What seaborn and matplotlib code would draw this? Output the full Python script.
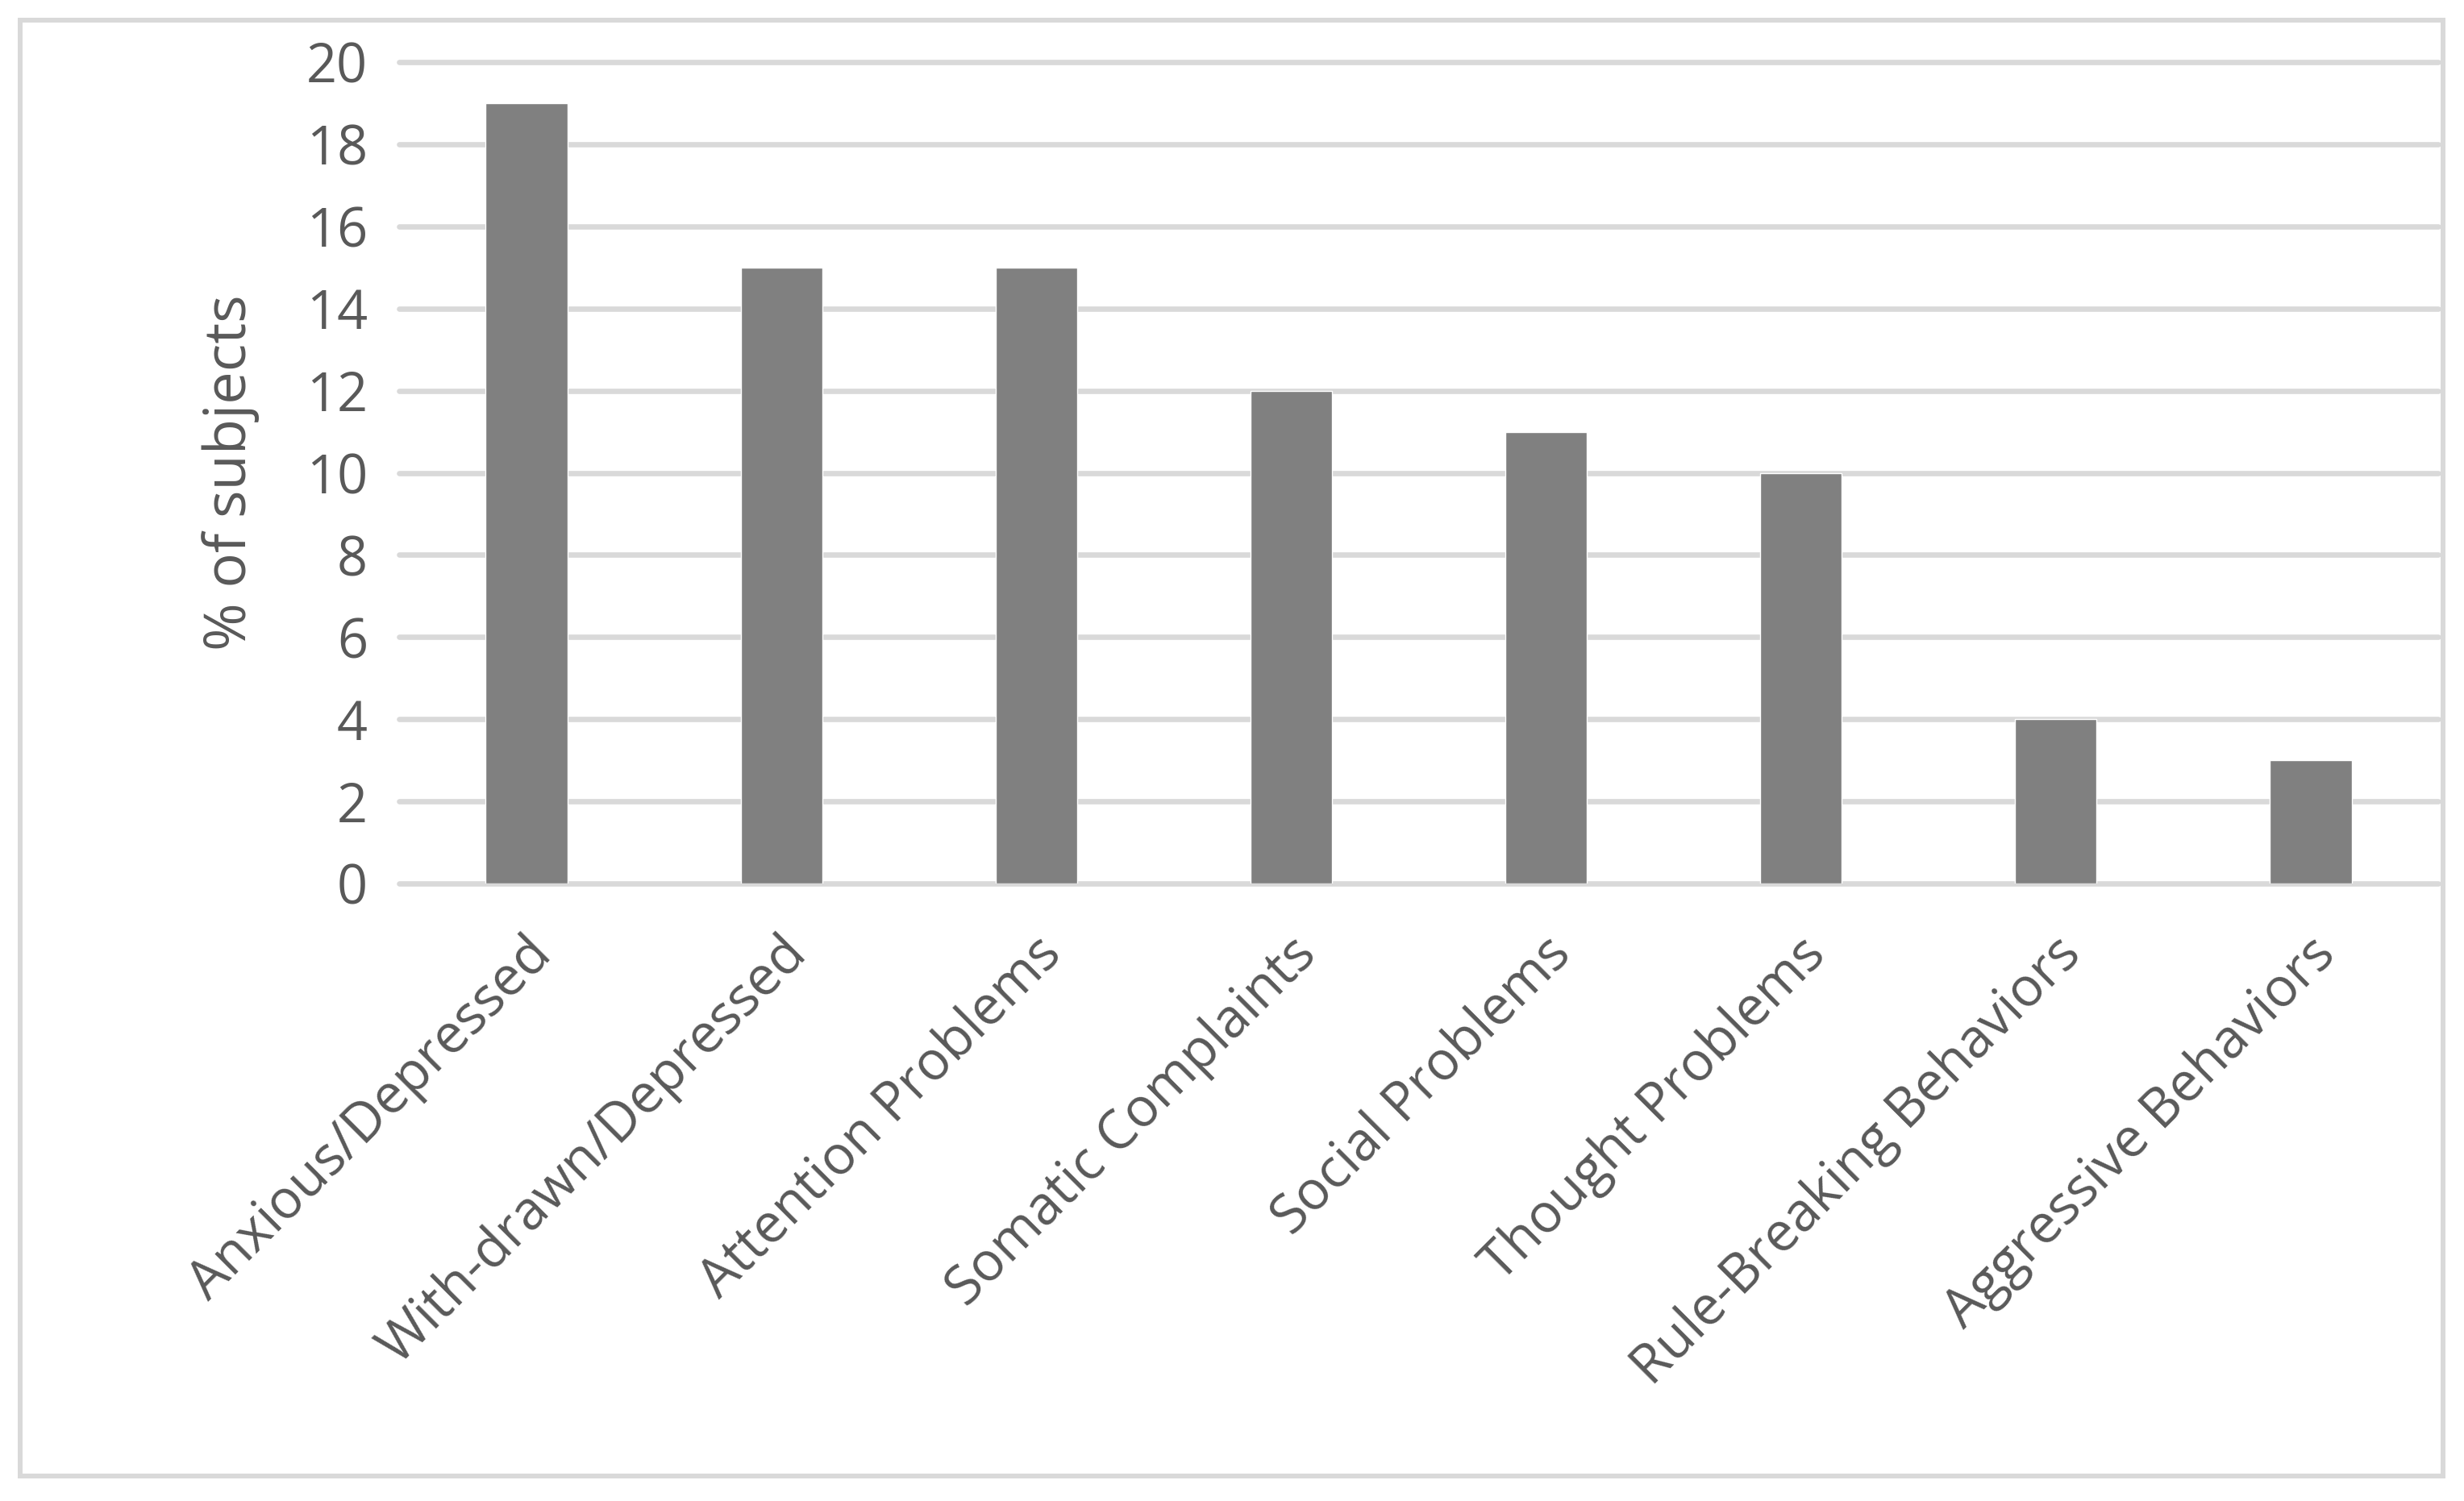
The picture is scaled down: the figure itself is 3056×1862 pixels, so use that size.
import matplotlib
matplotlib.use("Agg")
import matplotlib.pyplot as plt
import matplotlib.transforms as mtransforms
import seaborn as sns
from matplotlib.patches import Rectangle

# 데이터
categories = ["Anxious/Depressed", "With-drawn/Depressed", "Attention Problems",
              "Somatic Complaints", "Social Problems", "Thought Problems",
              "Rule-Breaking Behaviors", "Aggressive Behaviors"]
pct_subjects = [19, 15, 15, 12, 11, 10, 4, 3]
y_ticks = [0, 2, 4, 6, 8, 10, 12, 14, 16, 18, 20]

TEXT = "#595959"
GRID = "#d9d9d9"
BAR = "#808080"

sns.set_style("white")
plt.rcParams['font.family'] = ['Open Sans', 'DejaVu Sans']

W, H = 3056, 1862
fig = plt.figure(figsize=(W / 100, H / 100), dpi=100)
ax = fig.add_axes([495 / W, 1 - 1096 / H, (3024 - 495) / W, (1096 - 77) / H])

sns.barplot(x=categories, y=pct_subjects, color=BAR, saturation=1,
            width=0.32, errorbar=None, ax=ax)

ax.set_ylim(0, 20)
ax.set_yticks(y_ticks)
ax.set_axisbelow(True)
ax.grid(axis="y", color=GRID, lw=4.8)
ax.grid(axis="x", visible=False)
for gl in ax.get_ygridlines():
    gl.set_clip_on(False)
sns.despine(ax=ax, left=True, bottom=True)

ax.tick_params(axis="y", length=0, pad=28, labelsize=48, labelcolor=TEXT)
ax.tick_params(axis="x", length=0, pad=56, labelsize=48, labelcolor=TEXT)
# 라벨을 오른쪽으로 약간 이동 (엑셀 배치에 맞춤)
shift = mtransforms.ScaledTranslation(15 / 72, 0, fig.dpi_scale_trans)
for lbl in ax.get_xticklabels():
    lbl.set_rotation(45)
    lbl.set_ha("right")
    lbl.set_va("center")
    lbl.set_rotation_mode("anchor")
    lbl.set_transform(lbl.get_transform() + shift)

ax.set_ylabel("% of subjects", fontsize=52, color=TEXT)
ax.yaxis.set_label_coords((322 - 495) / (3024 - 495), 0.5)
ax.set_xlabel("")

# 바깥 테두리
fig.patches.append(Rectangle((25 / W, 1 - 1831 / H), (3030 - 25) / W, (1831 - 25) / H,
                             transform=fig.transFigure, fill=False,
                             ec=GRID, lw=4.3))

fig.savefig("out.png", dpi=100)
